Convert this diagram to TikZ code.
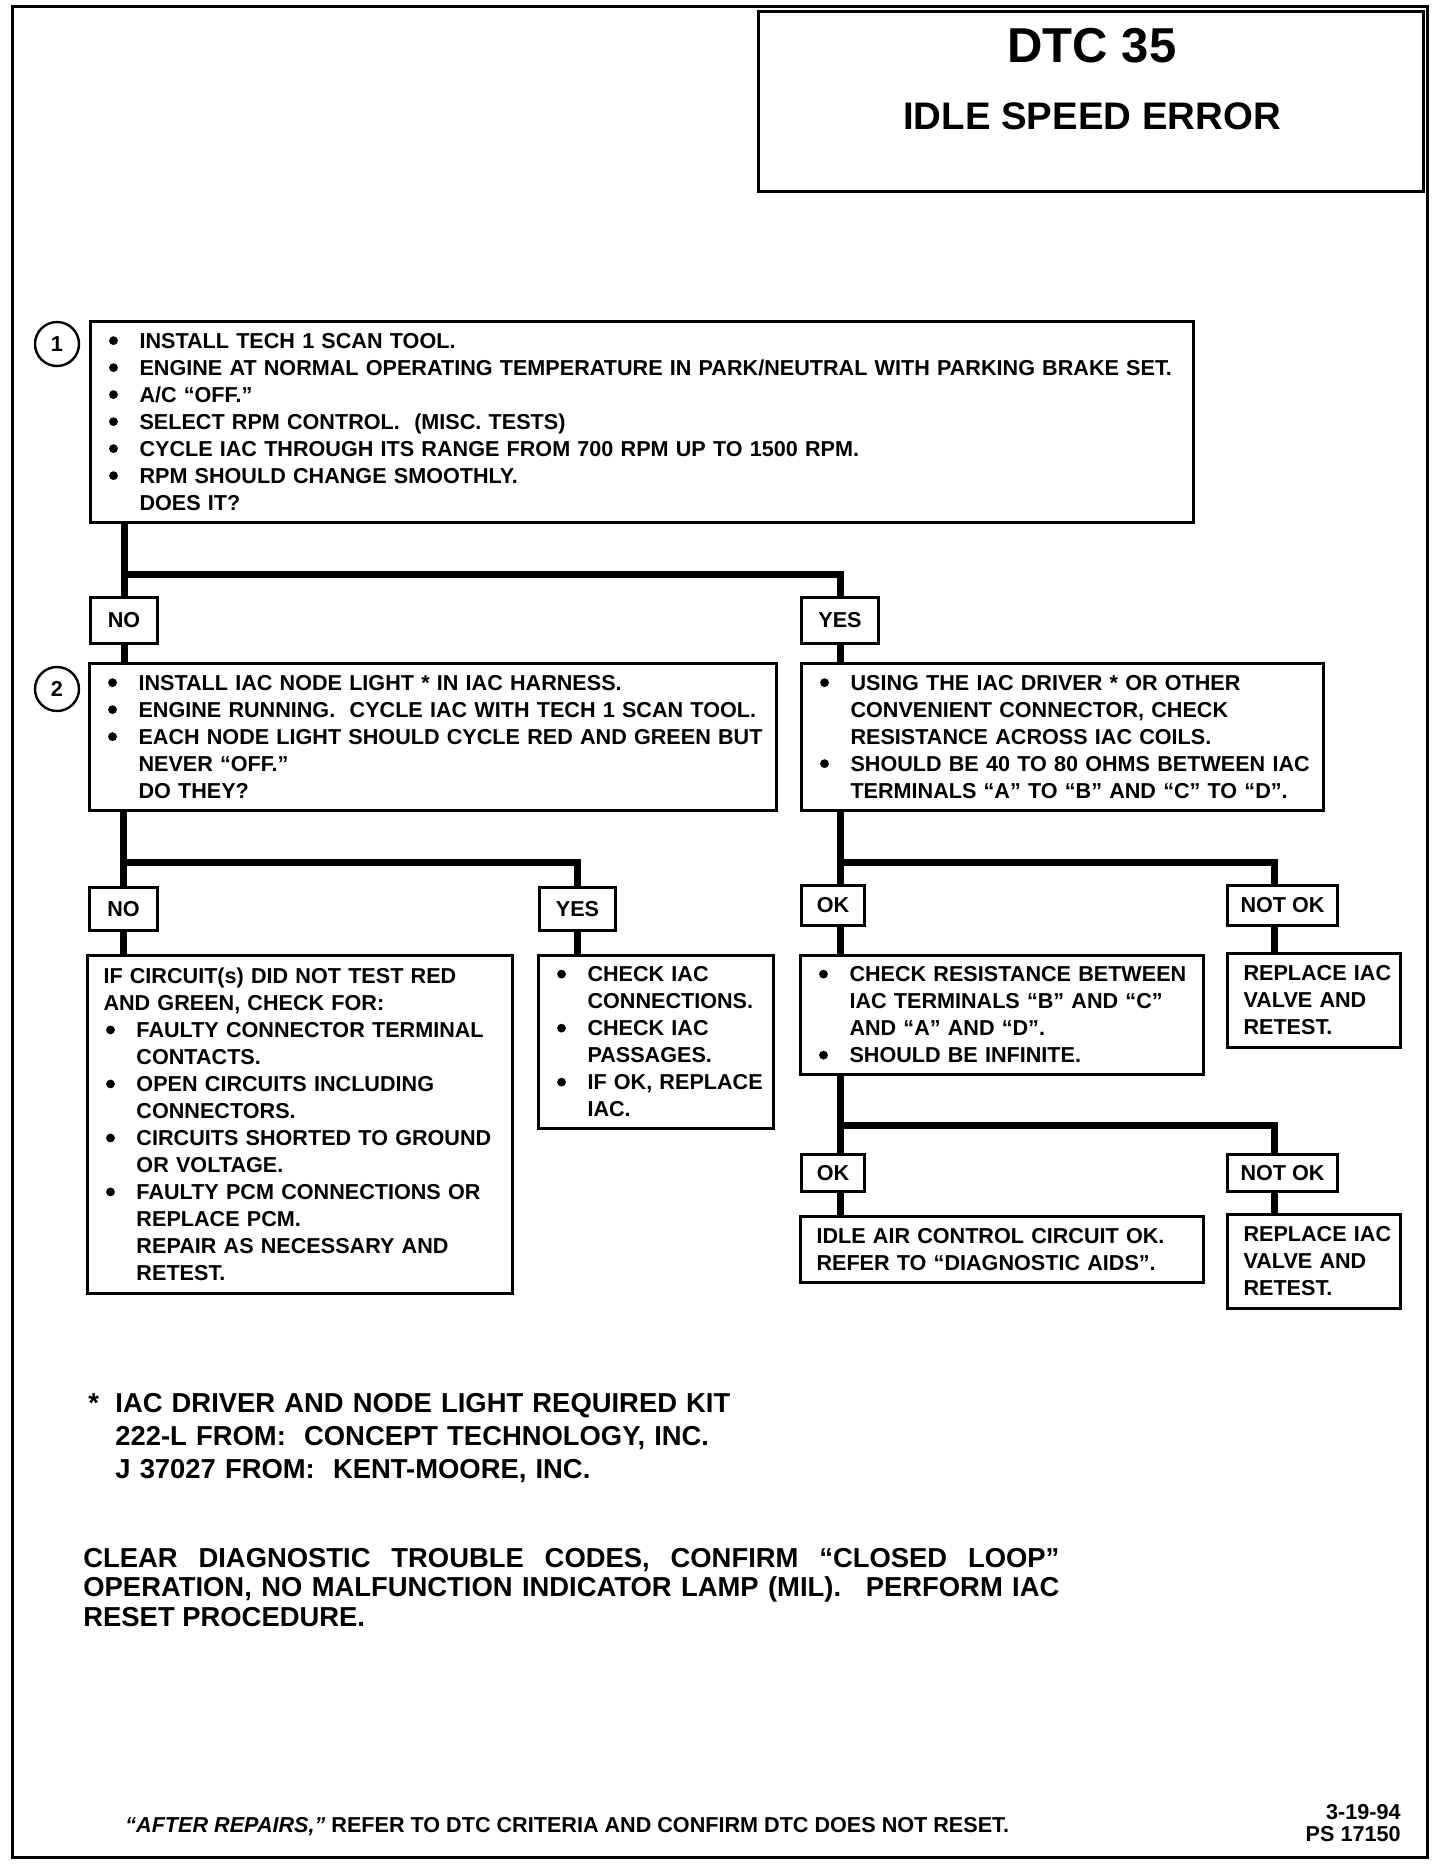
\documentclass[tikz,border=0pt]{standalone}
\usepackage{fontspec}
\setmainfont{Liberation Sans}
\usetikzlibrary{positioning}

\newcommand{\bodyfont}{\fontsize{10.8}{13.5}\selectfont\bfseries}
\newcommand{\notefont}{\fontsize{13.7}{16.5}\selectfont\bfseries}
\newcommand{\bul}{\makebox[16.5pt][l]{\hspace{1.3pt}\tikz[baseline={(0pt,-3.9pt)}]\fill (0pt,0pt) circle (2.2pt);}}
\newcommand{\bitem}[1]{\bul\mbox{#1}}
\newcommand{\cont}[1]{\hspace*{16.5pt}\mbox{#1}}

\tikzset{
  frame/.style={line width=1.5pt},
  stepbox/.style 2 args={draw, line width=1.5pt, anchor=north west, align=left,
    inner xsep=8pt, inner ysep=0pt, text width=#1, minimum height=#2, font=\bodyfont},
  tag/.style 2 args={draw, line width=1.5pt, anchor=north west, inner sep=0pt,
    minimum width=#1, minimum height=#2, font=\bodyfont},
  stepnum/.style={draw, circle, line width=1.2pt, minimum size=22pt, inner sep=0pt, font=\bodyfont},
  link/.style={line width=3.5pt},
}

\begin{document}
\frenchspacing
\begin{tikzpicture}[x=0.5pt,y=-0.5pt]
  \useasboundingbox (0,0) rectangle (1440,1864);
  \draw[frame] (12,6) rectangle (1427,1857);

  % title block
  \node[tag={332.5pt}{90pt}] (head) at (757,10) {};
  \node[anchor=base,font=\fontsize{24.5}{28}\selectfont\bfseries] (dtc) at (1092,62) {DTC 35};
  \node[anchor=base,font=\fontsize{19.2}{22}\selectfont\bfseries] (title) at (1092,129) {IDLE SPEED ERROR};

  % step 1
  \node[stepnum] (n1) at (57,344) {1};
  \node[stepbox={535.5pt}{100.5pt}] (check1) at (89,320) {%
    \bitem{INSTALL TECH 1 SCAN TOOL.}\\
    \bitem{ENGINE AT NORMAL OPERATING TEMPERATURE IN PARK/NEUTRAL WITH PARKING BRAKE SET.}\\
    \bitem{A/C “OFF.”}\\
    \bitem{SELECT RPM CONTROL.\ \ (MISC. TESTS)}\\
    \bitem{CYCLE IAC THROUGH ITS RANGE FROM 700 RPM UP TO 1500 RPM.}\\
    \bitem{RPM SHOULD CHANGE SMOOTHLY.}\\
    \cont{DOES IT?}};

  \node[tag={33.5pt}{23pt}] (no1) at (89,596) {NO};
  \node[tag={38.5pt}{23pt}] (yes1) at (800,596) {YES};

  % step 2
  \node[stepnum] (n2) at (57,689) {2};
  \node[stepbox={327.5pt}{73.5pt}] (check2) at (88,662) {%
    \bitem{INSTALL IAC NODE LIGHT * IN IAC HARNESS.}\\
    \bitem{ENGINE RUNNING.\ \ CYCLE IAC WITH TECH 1 SCAN TOOL.}\\
    \bitem{EACH NODE LIGHT SHOULD CYCLE RED AND GREEN BUT}\\
    \cont{NEVER “OFF.”}\\
    \cont{DO THEY?}};
  \node[stepbox={245pt}{73.5pt}] (ohms) at (800,662) {%
    \bitem{USING THE IAC DRIVER * OR OTHER}\\
    \cont{CONVENIENT CONNECTOR, CHECK}\\
    \cont{RESISTANCE ACROSS IAC COILS.}\\
    \bitem{SHOULD BE 40 TO 80 OHMS BETWEEN IAC}\\
    \cont{TERMINALS “A” TO “B” AND “C” TO “D”.}};

  \node[tag={34pt}{21.5pt}] (no2) at (88,886) {NO};
  \node[tag={38pt}{21.5pt}] (yes2) at (538,886) {YES};
  \node[tag={31.5pt}{20pt}] (ok1) at (800,884) {OK};
  \node[tag={55pt}{20pt}] (notok1) at (1226,884) {NOT OK};

  \node[stepbox={196.5pt}{169pt}] (faults) at (86,954) {%
    \mbox{IF CIRCUIT(s) DID NOT TEST RED}\\
    \mbox{AND GREEN, CHECK FOR:}\\
    \bitem{FAULTY CONNECTOR TERMINAL}\\
    \cont{CONTACTS.}\\
    \bitem{OPEN CIRCUITS INCLUDING}\\
    \cont{CONNECTORS.}\\
    \bitem{CIRCUITS SHORTED TO GROUND}\\
    \cont{OR VOLTAGE.}\\
    \bitem{FAULTY PCM CONNECTIONS OR}\\
    \cont{REPLACE PCM.}\\
    \cont{REPAIR AS NECESSARY AND}\\
    \cont{RETEST.}};
  \node[stepbox={101.5pt}{86.5pt}] (passages) at (537,954) {%
    \bitem{CHECK IAC}\\
    \cont{CONNECTIONS.}\\
    \bitem{CHECK IAC}\\
    \cont{PASSAGES.}\\
    \bitem{IF OK, REPLACE}\\
    \cont{IAC.}};
  \node[stepbox={185.5pt}{59.5pt}] (infinite) at (799,954) {%
    \bitem{CHECK RESISTANCE BETWEEN}\\
    \cont{IAC TERMINALS “B” AND “C”}\\
    \cont{AND “A” AND “D”.}\\
    \bitem{SHOULD BE INFINITE.}};
  \node[stepbox={70.5pt}{47pt}] (replaceA) at (1226,952) {%
    \mbox{REPLACE IAC}\\ \mbox{VALVE AND}\\ \mbox{RETEST.}};

  \node[tag={31.5pt}{18.5pt}] (ok2) at (800,1153) {OK};
  \node[tag={55pt}{18.5pt}] (notok2) at (1226,1153) {NOT OK};

  \node[stepbox={185.5pt}{33pt}] (circuitok) at (799,1215) {%
    \mbox{IDLE AIR CONTROL CIRCUIT OK.}\\
    \mbox{REFER TO “DIAGNOSTIC AIDS”.}};
  \node[stepbox={70.5pt}{47pt}] (replaceB) at (1226,1213) {%
    \mbox{REPLACE IAC}\\ \mbox{VALVE AND}\\ \mbox{RETEST.}};

  % connectors
  \coordinate (j1) at (0,574);
  \coordinate (j2) at (0,862);
  \coordinate (j3) at (0,1125);
  \coordinate (nx) at (1274,0);
  \draw[link] (no1 |- check1.south) -- (no1.north);
  \draw[link] (no1 |- j1) -| (yes1.north);
  \draw[link] (no1.south) -- (no1 |- check2.north);
  \draw[link] (yes1.south) -- (yes1 |- ohms.north);
  \draw[link] (no2 |- check2.south) -- (no2.north);
  \draw[link] (no2 |- j2) -| (yes2.north);
  \draw[link] (no2.south) -- (no2 |- faults.north);
  \draw[link] (yes2.south) -- (yes2 |- passages.north);
  \draw[link] (yes1 |- ohms.south) -- (yes1 |- ok1.north);
  \draw[link] (yes1 |- j2) -| (nx |- notok1.north);
  \draw[link] (yes1 |- ok1.south) -- (yes1 |- infinite.north);
  \draw[link] (nx |- notok1.south) -- (nx |- replaceA.north);
  \draw[link] (yes1 |- infinite.south) -- (yes1 |- ok2.north);
  \draw[link] (yes1 |- j3) -| (nx |- notok2.north);
  \draw[link] (yes1 |- ok2.south) -- (yes1 |- circuitok.north);
  \draw[link] (nx |- notok2.south) -- (nx |- replaceB.north);

  % notes
  \node[anchor=base west,font=\notefont,inner sep=0pt] (star) at (88,1412) {*};
  \node[anchor=base west,font=\notefont,inner sep=0pt,text width=340pt,align=left] (kit) at (115,1412) {%
    \mbox{IAC DRIVER AND NODE LIGHT REQUIRED KIT}\\
    \mbox{222-L FROM:\ \ CONCEPT TECHNOLOGY, INC.}\\
    \mbox{J 37027 FROM:\ \ KENT-MOORE, INC.}};
  \node[anchor=base west,font=\fontsize{13.7}{14.9}\selectfont\bfseries,inner sep=0pt,text width=488pt,align=justify] (clear) at (83,1567) {%
    CLEAR DIAGNOSTIC TROUBLE CODES, CONFIRM “CLOSED LOOP”\linebreak
    OPERATION, NO MALFUNCTION INDICATOR LAMP (MIL).\hspace{0.9em}PERFORM IAC\linebreak
    RESET PROCEDURE.};
  \node[anchor=base west,font=\bodyfont,inner sep=0pt] (after) at (125,1832) {%
    \textit{“AFTER REPAIRS,”} REFER TO DTC CRITERIA AND CONFIRM DTC DOES NOT RESET.};
  \node[anchor=base east,font=\bodyfont,inner sep=0pt] (date) at (1401,1819) {3-19-94};
  \node[anchor=base east,font=\bodyfont,inner sep=0pt] (ps) at (1401,1841) {PS 17150};
\end{tikzpicture}
\end{document}
